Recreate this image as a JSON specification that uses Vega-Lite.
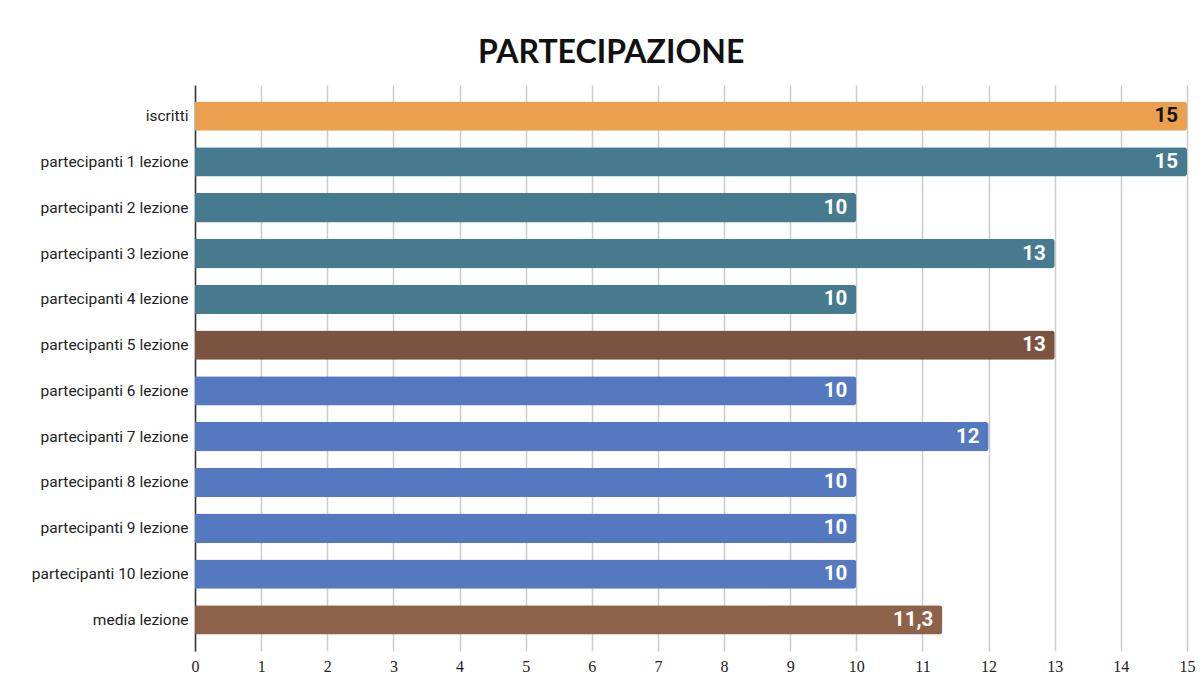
{
  "$schema": "https://vega.github.io/schema/vega-lite/v6.json",
  "width": 992,
  "height": 566,
  "autosize": {"type": "none"},
  "padding": {"left": 195, "top": 85, "right": 16, "bottom": 48},
  "background": "white",
  "title": {
    "text": "PARTECIPAZIONE",
    "anchor": "middle",
    "frame": "bounds",
    "dx": -2,
    "font": "Lato",
    "fontSize": 32,
    "fontWeight": "bold",
    "color": "#111111",
    "offset": 15
  },
  "data": {
    "values": [
      {"categoria": "iscritti", "valore": 15, "etichetta": "15", "gruppo": "iscritti"},
      {"categoria": "partecipanti 1 lezione", "valore": 15, "etichetta": "15", "gruppo": "teal"},
      {"categoria": "partecipanti 2 lezione", "valore": 10, "etichetta": "10", "gruppo": "teal"},
      {"categoria": "partecipanti 3 lezione", "valore": 13, "etichetta": "13", "gruppo": "teal"},
      {"categoria": "partecipanti 4 lezione", "valore": 10, "etichetta": "10", "gruppo": "teal"},
      {"categoria": "partecipanti 5 lezione", "valore": 13, "etichetta": "13", "gruppo": "marrone"},
      {"categoria": "partecipanti 6 lezione", "valore": 10, "etichetta": "10", "gruppo": "blu"},
      {"categoria": "partecipanti 7 lezione", "valore": 12, "etichetta": "12", "gruppo": "blu"},
      {"categoria": "partecipanti 8 lezione", "valore": 10, "etichetta": "10", "gruppo": "blu"},
      {"categoria": "partecipanti 9 lezione", "valore": 10, "etichetta": "10", "gruppo": "blu"},
      {"categoria": "partecipanti 10 lezione", "valore": 10, "etichetta": "10", "gruppo": "blu"},
      {"categoria": "media lezione", "valore": 11.3, "etichetta": "11,3", "gruppo": "media"}
    ]
  },
  "encoding": {
    "y": {
      "field": "categoria",
      "type": "nominal",
      "sort": null,
      "scale": {"paddingInner": 0.36, "paddingOuter": 0.36},
      "axis": {
        "title": null,
        "ticks": false,
        "domain": true,
        "domainColor": "#333333",
        "domainWidth": 1.5,
        "labelFont": "Roboto",
        "labelFontSize": 15.5,
        "labelColor": "#222222",
        "labelPadding": 7,
        "grid": false
      }
    },
    "x": {
      "field": "valore",
      "type": "quantitative",
      "scale": {"domain": [0, 15], "nice": false},
      "axis": {
        "title": null,
        "values": [0,1,2,3,4,5,6,7,8,9,10,11,12,13,14,15],
        "format": "d",
        "labelOverlap": false,
        "domain": false,
        "ticks": false,
        "grid": true,
        "gridColor": "#cccccc",
        "gridWidth": 1.5,
        "labelFont": "Liberation Serif",
        "labelFontSize": 16,
        "labelColor": "#222222",
        "labelPadding": 7,
        "labelFlush": false
      }
    }
  },
  "layer": [
    {
      "mark": {"type": "bar", "cornerRadiusEnd": 3},
      "encoding": {
        "color": {
          "field": "gruppo",
          "type": "nominal",
          "legend": null,
          "scale": {
            "domain": ["iscritti", "teal", "marrone", "blu", "media"],
            "range": ["#EBA04F", "#467B8F", "#7A5440", "#5479C1", "#8E6248"]
          }
        }
      }
    },
    {
      "mark": {"type": "text", "align": "right", "baseline": "middle", "dx": -9, "font": "Roboto", "fontSize": 20.5, "fontWeight": "bold"},
      "encoding": {
        "text": {"field": "etichetta"},
        "color": {
          "condition": {"test": "datum.gruppo === 'iscritti'", "value": "#111111"},
          "value": "#ffffff"
        }
      }
    }
  ],
  "config": {
    "view": {"stroke": null}
  }
}
